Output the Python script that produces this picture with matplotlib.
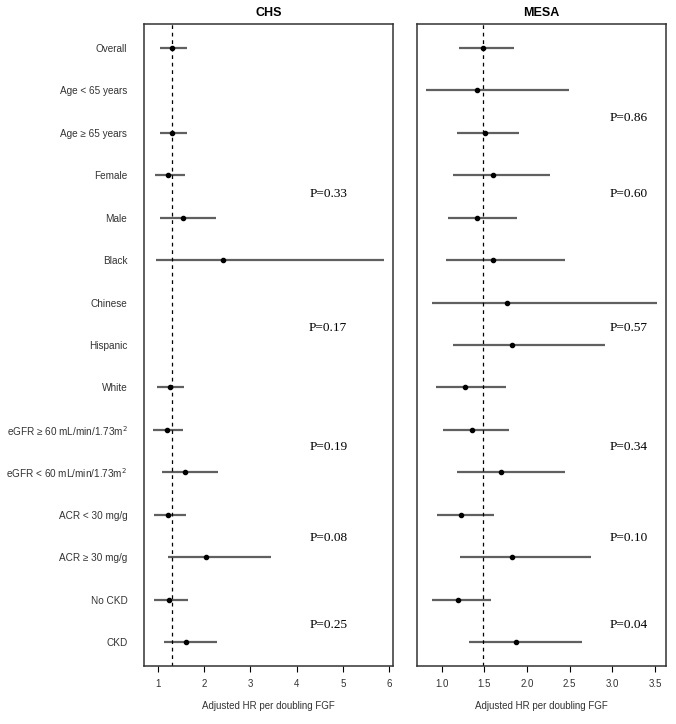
import numpy as np
import matplotlib
matplotlib.use("Agg")
import matplotlib.pyplot as plt

nan = np.nan

groups = ["Overall", "Age < 65 years", "Age \u2265 65 years", "Female", "Male",
          "Black", "Chinese", "Hispanic", "White",
          "eGFR \u2265 60 mL/min/1.73m$^2$", "eGFR < 60 mL/min/1.73m$^2$",
          "ACR < 30 mg/g", "ACR \u2265 30 mg/g", "No CKD", "CKD"]

# CHS: hazard ratio and 95% CI
chs_hr = [1.30, nan, 1.31, 1.23, 1.54, 2.40, nan, nan, 1.27, 1.19, 1.59, 1.22, 2.04, 1.24, 1.60]
chs_lo = [1.05, nan, 1.05, 0.94, 1.05, 0.96, nan, nan, 0.99, 0.90, 1.09, 0.92, 1.22, 0.92, 1.13]
chs_hi = [1.64, nan, 1.64, 1.59, 2.26, 5.88, nan, nan, 1.57, 1.54, 2.31, 1.60, 3.44, 1.65, 2.27]

# MESA
mesa_hr = [1.49, 1.42, 1.51, 1.60, 1.42, 1.60, 1.77, 1.82, 1.27, 1.36, 1.70, 1.23, 1.82, 1.19, 1.87]
mesa_lo = [1.20, 0.82, 1.18, 1.13, 1.08, 1.05, 0.89, 1.13, 0.93, 1.02, 1.18, 0.95, 1.21, 0.89, 1.32]
mesa_hi = [1.85, 2.49, 1.91, 2.27, 1.88, 2.45, 3.52, 2.91, 1.75, 1.79, 2.45, 1.61, 2.75, 1.58, 2.64]

# interaction p-values (label, row position between groups)
chs_p = [("P=0.33", 3.45), ("P=0.17", 6.6), ("P=0.19", 9.4), ("P=0.08", 11.55), ("P=0.25", 13.6)]
mesa_p = [("P=0.86", 1.65), ("P=0.60", 3.45), ("P=0.57", 6.6), ("P=0.34", 9.4), ("P=0.10", 11.55), ("P=0.04", 13.6)]

chs_ticks = [1, 2, 3, 4, 5, 6]
mesa_ticks = [1.0, 1.5, 2.0, 2.5, 3.0, 3.5]


def forest(ax, hr, lo, hi, ref, ticks, ticklabels, title, pvals, px):
    y = np.arange(len(groups))
    ax.hlines(y, lo, hi, color="#606060", lw=1.6)
    ax.plot(hr, y, "o", color="black", ms=3.0)
    ax.axvline(ref, color="black", lw=0.9, ls=(0, (3, 3)))
    lo_all = np.nanmin(lo)
    hi_all = np.nanmax(hi)
    pad = 0.04 * (hi_all - lo_all)
    ax.set_xlim(lo_all - pad, hi_all + pad)
    ax.set_ylim(len(groups) - 1 + 0.56, -0.56)
    ax.set_xticks(ticks)
    ax.set_xticklabels(ticklabels, fontsize=7, color="#333333", family="Liberation Sans")
    ax.tick_params(axis="x", length=4, width=0.8, pad=5)
    ax.set_xlabel("Adjusted HR per doubling FGF", fontsize=7, color="#333333",
                  family="Liberation Sans", labelpad=9)
    ax.set_title(title, fontsize=9, fontweight="bold", family="Liberation Sans", pad=6)
    for s in ax.spines.values():
        s.set_linewidth(1.1)
        s.set_color("#333333")
    for txt, yy in pvals:
        ax.text(px, yy, txt, fontsize=9.5, family="Liberation Serif", ha="center", va="center")


fig = plt.figure(figsize=(6.76, 7.24), dpi=100)
ax1 = fig.add_axes([0.2130, 0.0801, 0.3683, 0.8867])
ax2 = fig.add_axes([0.6169, 0.0801, 0.3683, 0.8867])

forest(ax1, chs_hr, chs_lo, chs_hi, 1.30, chs_ticks, [str(t) for t in chs_ticks], "CHS", chs_p, 4.68)
forest(ax2, mesa_hr, mesa_lo, mesa_hi, 1.49, mesa_ticks, ["%.1f" % t for t in mesa_ticks], "MESA", mesa_p, 3.19)

ax1.set_yticks(np.arange(len(groups)))
ax1.set_yticklabels(groups, fontsize=7.2, color="#333333", family="Liberation Sans")
ax1.tick_params(axis="y", length=0, pad=12)
ax2.set_yticks([])

fig.savefig("out.png", dpi=100)
